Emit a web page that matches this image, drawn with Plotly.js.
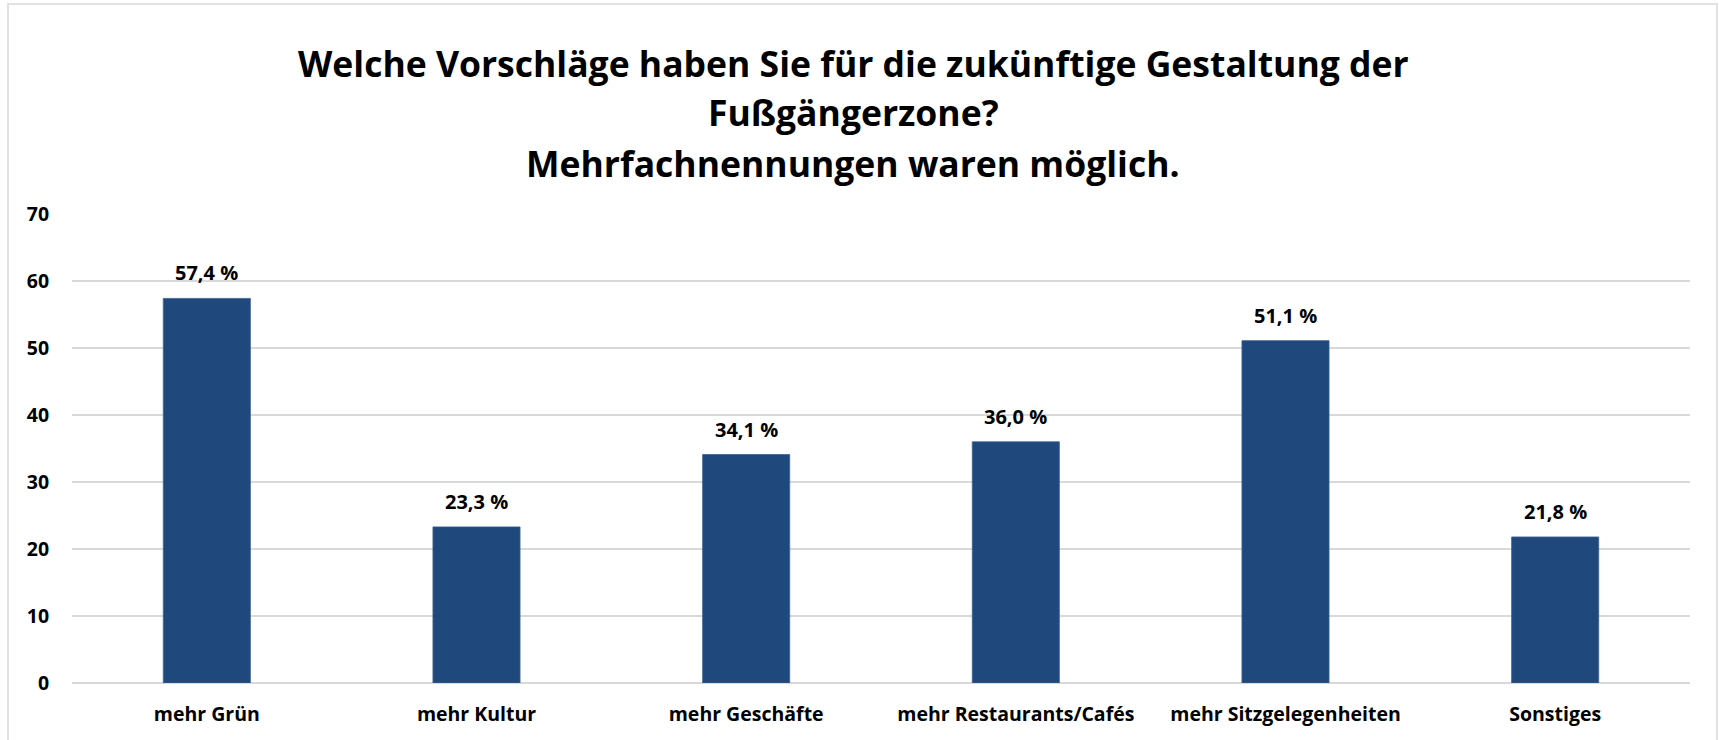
<!DOCTYPE html>
<html>
<head>
<meta charset="utf-8">
<script src="https://cdn.plot.ly/plotly-3.0.1.min.js"></script>
<style>html,body{margin:0;padding:0;background:#fff;}#chart{width:1719px;height:740px;}</style>
</head>
<body>
<div id="chart"></div>
<script>
const categories = ["mehr Grün", "mehr Kultur", "mehr Geschäfte", "mehr Restaurants/Cafés", "mehr Sitzgelegenheiten", "Sonstiges"];
const values = [57.4, 23.3, 34.1, 36.0, 51.1, 21.8];
const yTicks = [0, 10, 20, 30, 40, 50, 60, 70];
const titleLines = ["Welche Vorschläge haben Sie für die zukünftige Gestaltung der", "Fußgängerzone?", "Mehrfachnennungen waren möglich."];

const FONT = "'Open Sans', Lato, sans-serif";
const W = 1719, H = 740;
const L = 72, R = 29, T = 214, B = 57;
const pw = W - L - R, ph = H - T - B;
const px = x => (x - L) / pw;
const py = y => (H - B - y) / ph;

const labelAnn = categories.map((c, i) => ({
  x: c, y: values[i], xref: 'x', yref: 'y',
  text: '<b>' + values[i].toFixed(1).replace('.', ',') + ' %</b>',
  showarrow: false, yanchor: 'bottom', yshift: 10,
  font: {family: FONT, size: 20, color: '#000'}
}));

const titleY = [63, 112, 163];
const titleAnn = titleLines.map((t, i) => ({
  x: px(853), y: py(titleY[i]), xref: 'paper', yref: 'paper',
  text: '<b>' + t + '</b>', showarrow: false,
  xanchor: 'center', yanchor: 'middle',
  font: {family: FONT, size: 35.5, color: '#000'}
}));

const data = [{
  type: 'bar', x: categories, y: values,
  marker: {color: '#1F497D', line: {color: '#3d6292', width: 0.8}},
  hoverinfo: 'x+y'
}];

const layout = {
  width: W, height: H,
  margin: {l: L, r: R, t: T, b: B},
  paper_bgcolor: '#fff', plot_bgcolor: '#fff',
  showlegend: false,
  bargap: 0.677,
  font: {family: FONT, color: '#000'},
  xaxis: {
    type: 'category', showgrid: false, zeroline: false, showline: false,
    ticks: 'outside', ticklen: 14, tickcolor: 'rgba(0,0,0,0)',
    tickfont: {family: FONT, size: 19.5, color: '#000', weight: 'bold'}
  },
  yaxis: {
    range: [0, 70], tickvals: yTicks, ticktext: yTicks.map(v => '<b>' + v + '</b>'),
    showgrid: true, gridcolor: '#d9d9d9', gridwidth: 1.5,
    zeroline: true, zerolinecolor: '#d9d9d9', zerolinewidth: 1.5,
    showline: false, ticks: 'outside', ticklen: 18, tickcolor: 'rgba(0,0,0,0)',
    tickfont: {family: FONT, size: 19.5, color: '#000'}
  },
  annotations: titleAnn.concat(labelAnn),
  shapes: [{
    type: 'rect', xref: 'paper', yref: 'paper',
    x0: px(8), x1: px(1717), y0: py(760), y1: py(4),
    line: {color: '#d9d9d9', width: 1.5}, fillcolor: 'rgba(0,0,0,0)', layer: 'below'
  }]
};

Plotly.newPlot('chart', data, layout, {displayModeBar: false, staticPlot: true});
</script>
</body>
</html>
